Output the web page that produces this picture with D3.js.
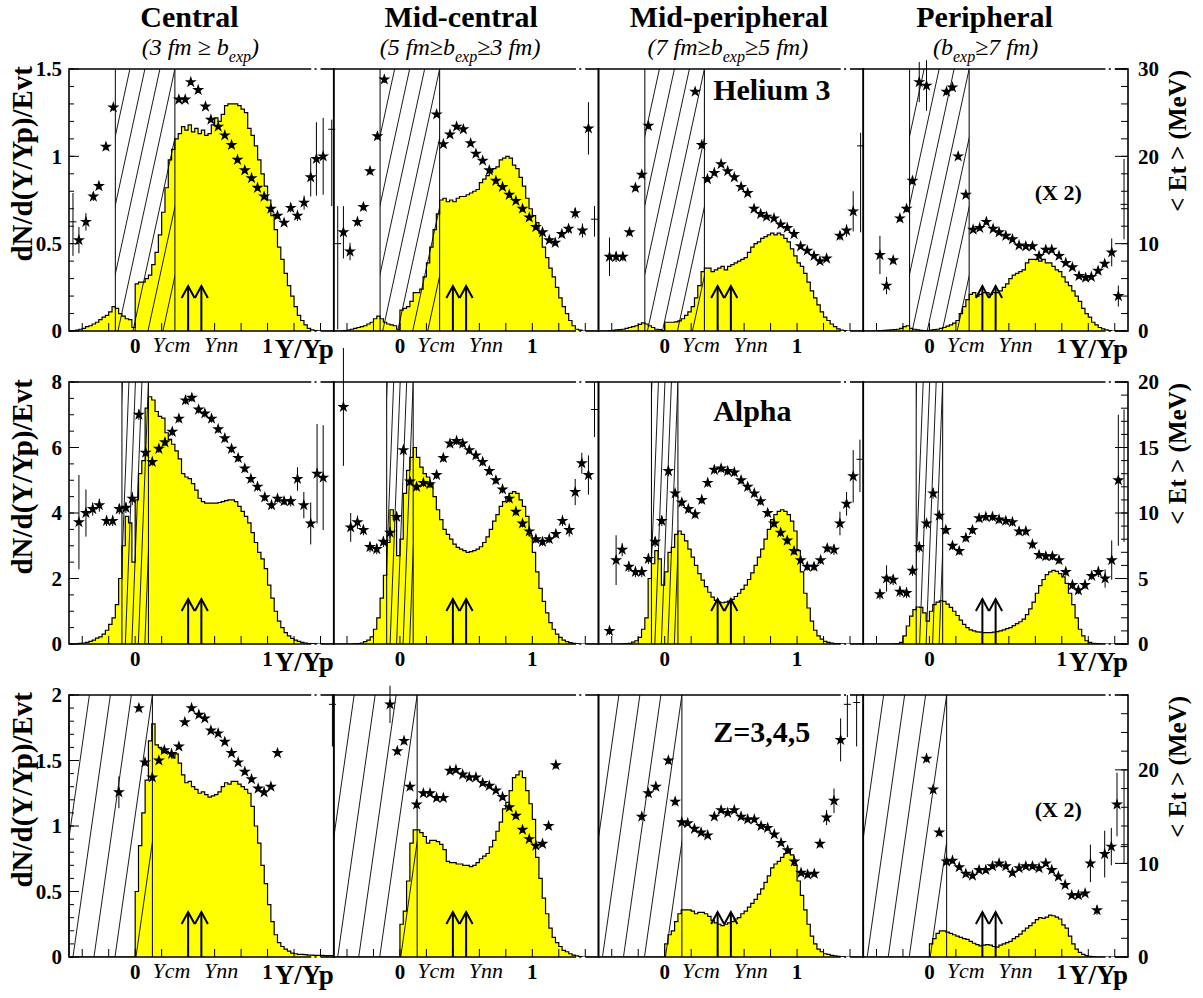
<!DOCTYPE html>
<html><head><meta charset="utf-8">
<script src="https://cdn.jsdelivr.net/npm/d3@7"></script>
<style>body{margin:0;background:#fff}svg{display:block}</style>
</head><body>
<svg id="chart" width="1203" height="998"></svg>
<script>
// Rapidity distributions dN/d(Y/Yp) (histograms, 0.025 bins from -0.5) and
// mean transverse energy <Et> (stars) for four centrality classes.
const binStart = -0.5, binWidth = 0.025;

// ---- Helium 3 ----
const he3Central = [
 0,0,0.005,0.01,0.015,0.025,0.03,0.04,0.05,0.065,
 0.08,0.09,0.11,0.14,0.13,0.10,0.085,0.07,0.065,0.02,
 0.27,0.28,0.28,0.30,0.32,0.38,0.45,0.55,0.68,0.82,
 0.98,1.04,1.10,1.13,1.17,1.15,1.18,1.14,1.16,1.13,
 1.15,1.12,1.13,1.18,1.22,1.20,1.24,1.29,1.30,1.30,
 1.30,1.29,1.27,1.25,1.16,1.12,1.06,0.98,0.90,0.83,
 0.75,0.66,0.58,0.48,0.41,0.33,0.26,0.20,0.14,0.09,
 0.06,0.035,0.015,0.006,0.002,0.001,0,0,0,0];
const he3MidCentral = [
 0,0,0,0.002,0.005,0.01,0.015,0.02,0.025,0.03,
 0.04,0.05,0.07,0.085,0.07,0.05,0.04,0.035,0.03,0.01,
 0.12,0.13,0.14,0.17,0.22,0.22,0.24,0.31,0.39,0.48,
 0.58,0.67,0.75,0.76,0.74,0.75,0.74,0.76,0.77,0.77,
 0.78,0.79,0.80,0.81,0.85,0.87,0.89,0.91,0.93,0.94,
 0.98,0.99,1.00,0.99,0.95,0.93,0.88,0.83,0.76,0.70,
 0.66,0.62,0.56,0.48,0.42,0.36,0.31,0.25,0.19,0.14,
 0.10,0.06,0.03,0.01,0.005,0,0,0,0,0];
const he3MidPeripheral = [
 0,0,0,0.002,0.004,0.006,0.008,0.01,0.015,0.02,
 0.025,0.03,0.038,0.046,0.04,0.03,0.02,0.01,0.008,0.003,
 0.05,0.05,0.05,0.052,0.058,0.07,0.09,0.11,0.14,0.19,
 0.26,0.34,0.36,0.36,0.34,0.35,0.36,0.37,0.35,0.37,
 0.38,0.39,0.40,0.41,0.42,0.45,0.48,0.50,0.51,0.53,
 0.54,0.55,0.56,0.55,0.56,0.55,0.53,0.51,0.47,0.43,
 0.39,0.37,0.33,0.28,0.23,0.19,0.15,0.11,0.08,0.06,
 0.04,0.025,0.012,0.005,0.002,0,0,0,0,0];
const he3PeripheralX2 = [
 0,0,0,0,0.002,0.003,0.004,0.005,0.006,0.008,
 0.01,0.015,0.025,0.03,0.015,0.01,0.006,0.004,0.003,0.002,
 0.005,0.008,0.01,0.015,0.02,0.028,0.035,0.045,0.06,0.10,
 0.14,0.18,0.21,0.22,0.20,0.21,0.22,0.22,0.21,0.22,
 0.22,0.23,0.25,0.27,0.30,0.32,0.33,0.34,0.35,0.39,
 0.41,0.41,0.41,0.40,0.41,0.39,0.39,0.37,0.35,0.34,
 0.31,0.28,0.26,0.23,0.20,0.17,0.13,0.10,0.08,0.05,
 0.035,0.02,0.012,0.006,0.002,0,0,0,0,0];

// <Et> points: [Y/Yp, <Et> (MeV), error]
const he3CentralEt = [[-0.425,10.4,1.5],[-0.372,12.5,1.0],[-0.316,15.4,0.5],[-0.274,16.6,0.4],[-0.221,21.1,0.4],[-0.165,25.6,0.4],
 [0.33,26.5,0.3],[0.378,26.5,0.3],[0.42,28.5,0.3],[0.476,27.6,0.3],[0.531,25.7,0.3],[0.572,24.2,0.3],[0.627,23.4,0.3],[0.677,22.4,0.3],
 [0.728,21.3,0.3],[0.773,19.6,0.3],[0.828,18.4,0.3],[0.879,17.5,0.3],[0.924,16.4,0.3],[0.974,15.4,0.3],[1.025,14.0,0.3],[1.075,13.2,0.3],
 [1.125,12.4,0.3],[1.175,14.1,0.5],[1.226,13.2,0.6],[1.276,14.7,0.8],[1.326,17.6,2.2],[1.369,19.7,4.2],[1.42,20.0,4.4]];
const he3MidCentralEt = [[-0.427,11.3,3.0],[-0.377,9.1,1.0],[-0.321,12.5,0.5],[-0.276,14.2,0.4],[-0.226,18.3,0.4],[-0.17,22.3,0.4],[-0.118,28.8,0.4],
 [0.277,24.8,0.3],[0.328,21.4,0.3],[0.378,22.5,0.3],[0.428,23.4,0.3],[0.479,23.1,0.3],[0.534,21.5,0.3],[0.574,20.3,0.3],[0.625,19.5,0.3],
 [0.675,18.4,0.3],[0.725,17.2,0.3],[0.775,16.5,0.3],[0.826,15.6,0.3],[0.876,14.9,0.3],[0.926,14.0,0.3],[0.977,13.0,0.3],[1.027,11.9,0.3],
 [1.077,11.3,0.3],[1.128,10.4,0.3],[1.173,10.1,0.3],[1.223,11.1,0.4],[1.274,11.7,0.5],[1.324,13.5,0.6],[1.379,11.5,0.8],[1.424,23.2,3.0]];
const he3MidPeripheralEt = [[-0.417,8.5,2.2],[-0.367,8.5,0.6],[-0.316,8.5,0.5],[-0.266,11.3,0.4],[-0.221,16.4,0.4],[-0.173,17.9,0.4],[-0.123,23.5,0.4],
 [0.23,27.4,0.3],[0.28,21.3,0.3],[0.323,17.4,0.3],[0.375,18.1,0.3],[0.426,19.1,0.3],[0.476,18.3,0.3],[0.526,17.6,0.3],[0.577,16.5,0.3],
 [0.627,15.8,0.3],[0.675,14.0,0.3],[0.725,13.4,0.3],[0.77,13.1,0.3],[0.826,12.9,0.3],[0.876,12.2,0.3],[0.926,11.8,0.3],[0.977,11.1,0.3],
 [1.027,9.7,0.3],[1.077,9.2,0.3],[1.128,8.6,0.3],[1.173,8.0,0.3],[1.223,8.3,0.3],[1.324,10.9,0.5],[1.374,11.5,0.7],[1.424,13.7,2.3]];
const he3PeripheralEt = [[-0.374,8.7,2.2],[-0.324,5.2,1.0],[-0.274,8.1,0.4],[-0.223,12.9,0.4],[-0.173,14.0,0.4],[-0.128,17.2,0.4],[-0.077,28.5,2.3],
 [-0.022,28.1,2.9],[0.129,27.4,0.4],[0.174,27.9,0.4],[0.217,20.0,0.4],[0.275,15.6,0.3],[0.33,11.6,0.3],[0.38,11.8,0.3],[0.43,12.5,0.3],
 [0.481,11.7,0.3],[0.526,11.3,0.3],[0.577,10.9,0.3],[0.627,10.5,0.3],[0.677,9.8,0.3],[0.728,9.7,0.3],[0.778,9.7,0.3],[0.828,8.6,0.3],
 [0.879,9.3,0.3],[0.924,9.3,0.3],[0.979,8.6,0.3],[1.03,7.8,0.3],[1.08,7.3,0.3],[1.13,6.3,0.3],[1.18,6.1,0.3],[1.223,6.2,0.3],
 [1.274,6.9,0.3],[1.324,7.7,0.4],[1.377,9.0,1.6],[1.427,4.0,1.2]];
// points at the edges of the range, shown by their error bars only: [Y/Yp, <Et>, low, high]
const he3EdgeBars = [
 [[-0.47,12.5,8.6,15.8],[1.485,23.1,14.3,24.2]],
 [[-0.47,10.0,0.2,14.3],[1.47,12.8,10.8,14.3]],
 [[1.48,21.2,11.3,22.7]],
 [[1.47,14.5,10.5,19.7]]];

// ---- Alpha ----
const alphaCentral = [
 0,0,0.005,0.02,0.03,0.05,0.08,0.12,0.18,0.22,
 0.3,0.42,0.6,0.8,1.2,2.0,3.0,3.9,3.7,2.5,
 4.4,5.2,5.6,7.2,7.55,7.45,7.1,6.95,6.9,6.45,
 6.25,6.1,5.9,5.65,5.2,5.1,5.05,4.9,4.7,4.45,
 4.35,4.3,4.3,4.3,4.3,4.32,4.35,4.38,4.4,4.4,
 4.35,4.2,4.05,3.9,3.7,3.4,3.1,2.8,2.6,2.3,
 1.8,1.4,1.0,0.7,0.5,0.35,0.25,0.17,0.12,0.08,
 0.05,0.03,0.015,0.01,0.005,0,0,0,0,0];
const alphaMidCentral = [
 0,0,0,0,0,0,0.005,0.01,0.03,0.07,
 0.12,0.22,0.45,0.8,1.4,2.1,3.1,4.1,3.8,2.7,
 3.2,4.6,5.3,5.7,6.0,5.7,5.4,5.2,5.1,4.9,
 4.5,4.1,3.8,3.5,3.35,3.2,3.05,2.95,2.9,2.85,
 2.8,2.82,2.85,2.9,2.97,3.1,3.27,3.5,3.75,3.95,
 4.2,4.35,4.5,4.6,4.65,4.6,4.4,4.2,3.9,3.3,
 2.8,2.2,1.7,1.3,0.95,0.65,0.45,0.3,0.2,0.12,
 0.07,0.04,0.02,0.01,0,0,0,0,0,0];
const alphaMidPeripheral = [
 0,0,0,0,0,0,0,0.005,0.01,0.02,
 0.06,0.1,0.2,0.45,0.8,2.0,2.45,2.85,2.6,1.8,
 2.2,2.8,2.95,3.35,3.45,3.35,3.15,2.9,2.65,2.4,
 2.15,1.95,1.75,1.58,1.43,1.33,1.28,1.26,1.28,1.31,
 1.36,1.45,1.55,1.67,1.8,1.97,2.17,2.4,2.65,2.9,
 3.2,3.5,3.8,3.95,4.05,4.1,4.05,3.95,3.75,3.45,
 2.85,2.2,1.55,1.1,0.7,0.42,0.25,0.15,0.08,0.05,
 0.03,0.015,0.01,0.005,0,0,0,0,0,0];
const alphaPeripheral = [
 0,0,0,0,0,0,0,0,0,0.005,
 0.01,0.05,0.25,0.55,0.85,1.05,1.13,1.12,0.95,0.7,
 1.0,1.2,1.28,1.32,1.3,1.22,1.12,1.0,0.87,0.73,
 0.6,0.5,0.43,0.4,0.37,0.36,0.35,0.35,0.35,0.36,
 0.38,0.4,0.43,0.47,0.5,0.56,0.62,0.68,0.76,0.9,
 1.07,1.28,1.55,1.78,1.97,2.12,2.2,2.25,2.22,2.15,
 2.05,1.85,1.55,1.2,0.8,0.45,0.25,0.1,0.05,0.02,
 0.01,0.005,0,0,0,0,0,0,0,0];

const alphaCentralEt = [[-0.425,9.3,3.6],[-0.372,10.0,1.8],[-0.321,10.3,0.5],[-0.271,10.6,0.5],[-0.216,9.4,0.4],[-0.17,9.4,0.4],[-0.12,10.3,0.4],
 [-0.07,10.4,0.4],[-0.022,11.1,0.5],[0.028,17.5,0.4],[0.079,14.6,0.4],[0.129,13.9,0.3],[0.179,14.9,0.3],[0.225,15.4,0.3],[0.28,16.2,0.3],
 [0.33,17.2,0.3],[0.38,18.6,0.3],[0.428,18.8,0.3],[0.479,17.9,0.3],[0.526,17.6,0.3],[0.577,17.2,0.3],[0.627,16.4,0.3],[0.677,15.7,0.3],
 [0.728,14.9,0.3],[0.778,14.2,0.3],[0.828,13.4,0.3],[0.874,12.6,0.3],[0.924,12.0,0.3],[0.979,11.2,0.3],[1.03,10.6,0.3],[1.075,11.1,0.3],
 [1.125,10.9,0.3],[1.175,10.9,0.4],[1.226,12.6,0.9],[1.274,10.6,1.0],[1.326,9.2,1.6],[1.374,13.0,3.8],[1.42,12.7,4.0]];
const alphaMidCentralEt = [[-0.427,18.1,4.5],[-0.372,8.9,1.1],[-0.321,9.3,0.5],[-0.276,8.7,0.4],[-0.226,7.4,0.4],[-0.175,7.25,0.4],[-0.125,7.8,0.4],
 [-0.075,8.5,0.4],[-0.025,9.7,0.4],[0.026,14.8,0.4],[0.076,12.4,0.3],[0.126,12.0,0.3],[0.177,12.3,0.3],[0.227,12.2,0.3],[0.277,12.9,0.3],
 [0.328,14.2,0.3],[0.378,15.3,0.3],[0.428,15.5,0.3],[0.474,15.3,0.3],[0.524,14.8,0.3],[0.574,14.4,0.3],[0.625,13.9,0.3],[0.675,13.2,0.3],
 [0.725,12.5,0.3],[0.775,11.8,0.3],[0.826,11.1,0.3],[0.876,10.1,0.3],[0.926,9.2,0.3],[0.977,8.6,0.3],[1.027,8.0,0.3],[1.077,7.8,0.3],
 [1.128,8.0,0.3],[1.178,8.4,0.3],[1.228,9.4,0.4],[1.279,8.7,0.5],[1.324,11.6,1.0],[1.374,13.8,0.8],[1.424,12.9,1.5]];
const alphaMidPeripheralEt = [[-0.417,1.0,0.3],[-0.367,6.4,1.9],[-0.321,7.2,0.5],[-0.271,5.9,0.4],[-0.221,5.5,0.4],[-0.173,5.5,0.4],[-0.123,6.5,0.4],
 [-0.072,7.8,0.4],[-0.022,9.4,0.4],[0.028,13.2,0.4],[0.079,11.5,0.3],[0.129,10.8,0.3],[0.179,10.3,0.3],[0.23,9.9,0.3],[0.28,11.0,0.3],
 [0.325,12.3,0.3],[0.375,13.3,0.3],[0.426,13.4,0.3],[0.476,13.2,0.3],[0.526,13.1,0.3],[0.577,12.5,0.3],[0.627,12.0,0.3],[0.677,11.5,0.3],
 [0.725,10.9,0.3],[0.778,10.0,0.3],[0.826,9.2,0.3],[0.876,8.5,0.3],[0.926,7.9,0.3],[0.977,7.1,0.3],[1.027,6.4,0.3],[1.077,5.9,0.3],
 [1.128,5.9,0.3],[1.178,6.4,0.3],[1.228,7.3,0.3],[1.279,7.2,0.4],[1.324,9.2,0.9],[1.374,10.7,0.9],[1.424,12.8,2.0]];
const alphaPeripheralEt = [[-0.374,3.8,0.4],[-0.324,5.0,1.0],[-0.274,4.9,0.4],[-0.223,4.0,0.4],[-0.173,3.9,0.4],[-0.128,5.6,0.4],[-0.077,7.4,0.4],
 [-0.022,9.2,0.4],[0.028,11.5,0.4],[0.074,9.8,0.3],[0.124,8.7,0.3],[0.174,7.5,0.3],[0.225,7.1,0.3],[0.275,8.1,0.3],[0.325,8.7,0.3],
 [0.375,9.6,0.3],[0.426,9.7,0.3],[0.476,9.7,0.3],[0.526,9.5,0.3],[0.577,9.4,0.3],[0.627,9.3,0.3],[0.677,8.6,0.3],[0.728,8.6,0.3],
 [0.778,7.6,0.3],[0.828,6.8,0.3],[0.879,6.7,0.3],[0.929,6.7,0.3],[0.979,6.4,0.3],[1.03,5.5,0.3],[1.08,4.5,0.3],[1.125,4.1,0.3],
 [1.175,4.5,0.3],[1.226,5.2,0.3],[1.276,5.5,0.4],[1.327,5.0,0.7],[1.377,6.4,1.5],[1.427,12.5,5.0]];
const alphaEdgeBars = [
 [],
 [[1.47,17.9,15.8,20.0]],
 [[1.475,14.1,11.6,15.6]],
 [[1.47,15.0,7.8,17.9]]];

// ---- Z = 3,4,5 ----
const zCentral = [
 0,0,0,0,0,0,0,0,0,0,
 0,0,0,0,0,0,0,0,0,0,
 0.5,0.85,1.1,1.35,1.65,1.78,1.62,1.6,1.56,1.57,
 1.56,1.52,1.55,1.48,1.39,1.33,1.34,1.3,1.28,1.25,
 1.26,1.24,1.22,1.23,1.24,1.26,1.3,1.33,1.32,1.34,
 1.34,1.32,1.3,1.28,1.25,1.15,1.0,0.87,0.7,0.56,
 0.4,0.27,0.17,0.11,0.08,0.06,0.045,0.03,0.025,0.02,
 0.02,0.018,0.015,0.015,0.013,0.012,0.012,0.01,0.01,0.01];
const zMidCentral = [
 0,0,0,0,0,0,0,0,0,0,
 0,0,0,0,0,0,0,0,0,0,
 0.25,0.35,0.58,0.87,0.97,0.97,0.95,0.92,0.87,0.89,
 0.89,0.88,0.86,0.82,0.73,0.72,0.72,0.71,0.71,0.70,
 0.70,0.69,0.70,0.72,0.75,0.77,0.79,0.84,0.89,0.96,
 1.03,1.13,1.18,1.27,1.37,1.39,1.42,1.37,1.27,1.17,
 1.05,0.76,0.6,0.45,0.33,0.22,0.15,0.11,0.08,0.05,
 0.04,0.025,0.015,0.008,0.003,0,0,0,0,0];
const zMidPeripheral = [
 0,0,0,0,0,0,0,0,0,0,
 0,0,0,0,0,0,0,0,0,0,
 0.1,0.17,0.2,0.27,0.33,0.36,0.36,0.36,0.35,0.33,
 0.34,0.34,0.33,0.31,0.28,0.26,0.25,0.24,0.25,0.26,
 0.27,0.29,0.3,0.33,0.35,0.38,0.41,0.44,0.48,0.52,
 0.57,0.62,0.68,0.71,0.73,0.76,0.79,0.82,0.78,0.7,
 0.58,0.47,0.36,0.25,0.16,0.1,0.06,0.04,0.025,0.02,
 0.012,0.008,0.005,0.003,0,0,0,0,0,0];
const zPeripheralX2 = [
 0,0,0,0,0,0,0,0,0,0,
 0,0,0,0,0,0,0,0,0,0,
 0.1,0.14,0.18,0.2,0.2,0.19,0.18,0.17,0.16,0.15,
 0.14,0.135,0.12,0.105,0.095,0.085,0.09,0.095,0.09,0.08,
 0.075,0.09,0.1,0.11,0.12,0.14,0.155,0.175,0.2,0.22,
 0.24,0.26,0.285,0.3,0.295,0.305,0.32,0.315,0.305,0.29,
 0.245,0.22,0.16,0.1,0.06,0.035,0.02,0.01,0.005,0.003,
 0,0,0,0,0,0,0,0,0,0];

const zCentralEt = [[-0.123,17.6,1.7],[0.028,26.6,0.4],[0.074,20.8,0.4],[0.129,19.2,0.4],[0.179,21.0,0.3],[0.22,22.1,0.3],[0.275,21.7,0.3],
 [0.33,22.5,0.3],[0.375,25.1,0.3],[0.426,26.6,0.3],[0.481,25.9,0.3],[0.526,25.5,0.3],[0.572,24.2,0.3],[0.627,23.9,0.3],[0.677,23.0,0.3],
 [0.728,21.8,0.3],[0.778,20.8,0.3],[0.828,19.8,0.3],[0.879,19.0,0.3],[0.929,18.0,0.3],[0.974,17.6,0.3],[1.025,18.2,0.3],[1.075,21.8,0.3]];
const zMidCentralEt = [[-0.075,27.0,2.0],[-0.02,22.0,0.4],[0.031,23.1,0.4],[0.076,18.2,0.4],[0.126,16.3,0.4],[0.177,17.5,0.3],[0.227,17.5,0.3],
 [0.277,17.0,0.3],[0.328,17.0,0.3],[0.378,19.9,0.3],[0.423,20.0,0.3],[0.474,19.5,0.3],[0.524,19.2,0.3],[0.574,19.2,0.3],[0.625,18.6,0.3],
 [0.675,18.3,0.3],[0.725,17.8,0.3],[0.775,17.1,0.3],[0.826,16.0,0.3],[0.876,15.1,0.3],[0.926,13.6,0.3],[0.977,12.6,0.3],[1.027,11.9,0.3],
 [1.077,12.1,0.3],[1.123,14.0,0.3],[1.178,20.5,0.4]];
const zMidPeripheralEt = [[-0.173,15.0,0.4],[-0.123,17.5,0.4],[-0.067,18.2,0.4],[0.028,21.0,0.4],[0.079,16.6,0.4],[0.129,14.4,0.3],[0.174,14.3,0.3],
 [0.225,13.7,0.3],[0.275,13.3,0.3],[0.325,13.0,0.3],[0.375,15.0,0.3],[0.426,15.7,0.3],[0.476,15.4,0.3],[0.526,15.7,0.3],[0.577,15.0,0.3],
 [0.627,14.7,0.3],[0.677,14.7,0.3],[0.728,14.0,0.3],[0.778,13.8,0.3],[0.828,13.1,0.3],[0.879,12.2,0.3],[0.929,11.4,0.3],[0.979,10.2,0.3],
 [1.03,9.0,0.3],[1.08,8.8,0.3],[1.13,8.9,0.3],[1.173,12.1,0.4],[1.223,14.9,0.8],[1.279,16.7,1.3],[1.329,23.2,2.3]];
const zPeripheralEt = [[-0.022,21.2,0.4],[0.028,17.9,0.4],[0.074,13.3,0.4],[0.129,10.2,0.4],[0.174,10.3,0.3],[0.225,9.6,0.3],[0.275,8.9,0.3],
 [0.325,8.7,0.3],[0.375,9.3,0.3],[0.426,9.3,0.3],[0.476,9.7,0.3],[0.526,10.0,0.3],[0.577,9.7,0.3],[0.627,9.0,0.3],[0.677,9.5,0.3],
 [0.728,9.7,0.3],[0.778,9.7,0.3],[0.828,9.5,0.3],[0.879,10.0,0.3],[0.924,9.3,0.3],[0.974,8.6,0.3],[1.025,7.7,0.3],[1.075,6.6,0.3],
 [1.125,6.6,0.3],[1.176,6.8,0.3],[1.216,10.0,2.0],[1.266,5.0,0.5],[1.324,11.0,2.5],[1.374,11.8,2.0],[1.417,16.3,3.4]];
const zEdgeBars = [
 [[1.49,27.0,22.5,28.0]],
 [],
 [[1.38,27.0,23.5,28.0],[1.45,27.2,22.5,28.0]],
 [[1.47,11.8,10.0,20.0]]];

// ---- labels and axes ----
const centralityTitles = ["Central","Mid-central","Mid-peripheral","Peripheral"];
// impact-parameter selections: [before subscript, subscript, after subscript]
const centralityCuts = [["(3 fm \u2265 b","exp",")"],["(5 fm\u2265b","exp","\u22653 fm)"],["(7 fm\u2265b","exp","\u22655 fm)"],["(b","exp","\u22657 fm)"]];
const particleNames = ["Helium 3","Alpha","Z=3,4,5"];
const he3Ticks = [0,0.5,1,1.5], alphaTicks = [0,2,4,6,8], zTicks = [0,0.5,1,1.5,2];
const he3EtTicks = [0,10,20,30], alphaEtTicks = [0,5,10,15,20], zEtTicks = [0,10,20];
const rapidityTicks = [-0.4,-0.2,0,0.2,0.4,0.6,0.8,1,1.2,1.4];
const rapidityLabels = [0,1];
const ycmValue = 0.40, ynnValue = 0.50;
const scaleNote = "(X 2)";

// ---------------------------------------------------------------
const FONT = "'Liberation Serif','Times New Roman',Times,serif";
const svg = d3.select("#chart");
const defs = svg.append("defs");
const L = {left:69, top:69, w:264.75, h:262, rowStep:313};

const rowsCfg = [
 {hists:[he3Central,he3MidCentral,he3MidPeripheral,he3PeripheralX2],
  stars:[he3CentralEt,he3MidCentralEt,he3MidPeripheralEt,he3PeripheralEt], edges:he3EdgeBars,
  yMax:1.5, yTicks:he3Ticks, yMinor:0.1, etMax:30, etTicks:he3EtTicks, etMinor:2,
  hatch:[-0.15,0.30], hatchSpacing:15, hatchSlope:4.6, ycm:true,
  nameAt:[0.366,1.32], scaled:[false,false,false,true]},
 {hists:[alphaCentral,alphaMidCentral,alphaMidPeripheral,alphaPeripheral],
  stars:[alphaCentralEt,alphaMidCentralEt,alphaMidPeripheralEt,alphaPeripheralEt], edges:alphaEdgeBars,
  yMax:8, yTicks:alphaTicks, yMinor:0.5, etMax:20, etTicks:alphaEtTicks, etMinor:1,
  hatch:[-0.1,0.1], hatchSpacing:6.5, hatchSlope:26, ycm:false,
  nameAt:[0.366,6.81], scaled:[false,false,false,false]},
 {hists:[zCentral,zMidCentral,zMidPeripheral,zPeripheralX2],
  stars:[zCentralEt,zMidCentralEt,zMidPeripheralEt,zPeripheralEt], edges:zEdgeBars,
  yMax:2, yTicks:zTicks, yMinor:0.1, etMax:28, etTicks:zEtTicks, etMinor:2,
  hatch:[-0.5,0.13], hatchSpacing:21, hatchSlope:7, ycm:true,
  nameAt:[0.366,1.64], scaled:[false,false,false,true]}
];

const starSym = d3.symbol().type(d3.symbolStar).size(45);
const titleDx = [-12,-5,-2,-11], cutDx = [-1,-6,-3,-10];

// column headers
centralityTitles.forEach((t,c)=>{
  const cx = L.left + c*L.w + L.w/2;
  svg.append("text").attr("x",cx+titleDx[c]).attr("y",27).attr("text-anchor","middle")
    .attr("font-family",FONT).attr("font-weight","bold").attr("font-size",30).text(t);
  const cut = centralityCuts[c];
  const tx = svg.append("text").attr("x",cx+cutDx[c]).attr("y",55).attr("text-anchor","middle")
    .attr("font-family",FONT).attr("font-style","italic").attr("font-size",24);
  tx.append("tspan").text(cut[0]);
  tx.append("tspan").attr("dy",7).attr("font-size",16).text(cut[1]);
  tx.append("tspan").attr("dy",-7).text(cut[2]);
});

rowsCfg.forEach((row,r)=>{
  const y0 = L.top + r*L.rowStep, y1 = y0 + L.h;
  // left axis title
  svg.append("text").attr("transform",`translate(32,${y0-3}) rotate(-90)`).attr("text-anchor","end")
    .attr("font-family",FONT).attr("font-weight","bold").attr("font-size",29).text("dN/d(Y/Yp)/Evt");
  // right axis title
  svg.append("text").attr("transform",`translate(1186,${y0+1}) rotate(-90)`).attr("text-anchor","end")
    .attr("font-family",FONT).attr("font-weight","bold").attr("font-size",25).text("< Et > (MeV)");

  for(let c=0;c<4;c++){
    const x0 = L.left + c*L.w, x1 = x0 + L.w;
    const x = d3.scaleLinear().domain([-0.5,1.5]).range([x0,x1]);
    const y = d3.scaleLinear().domain([0,row.yMax]).range([y1,y0]);
    const et = d3.scaleLinear().domain([0,row.etMax]).range([y1,y0]);
    const g = svg.append("g");
    const clipId = `frame-${r}-${c}`;
    defs.append("clipPath").attr("id",clipId).append("rect")
      .attr("x",x0).attr("y",y0).attr("width",L.w).attr("height",L.h);

    // histogram (step outline + yellow fill)
    const vals = row.hists[c];
    let d = `M${x(binStart)},${y(0)}`;
    vals.forEach((v,i)=>{
      d += `L${x(binStart+i*binWidth)},${y(v)}L${x(binStart+(i+1)*binWidth)},${y(v)}`;
    });
    d += `L${x(binStart+vals.length*binWidth)},${y(0)}`;
    g.append("path").attr("d",d+"Z").attr("fill","#ffff00").attr("stroke","none").attr("clip-path",`url(#${clipId})`);

    // hatched acceptance band
    const hx0 = x(row.hatch[0]), hx1 = x(row.hatch[1]);
    const hId = `hatch-${r}-${c}`;
    defs.append("clipPath").attr("id",hId).append("rect")
      .attr("x",hx0).attr("y",y0).attr("width",hx1-hx0).attr("height",L.h);
    const shift = L.h/row.hatchSlope;
    const hatchLines = [];
    for(let k=-60;k<=60;k++){
      const xt = hx1 - k*row.hatchSpacing, xb = xt - shift;
      if(Math.max(xt,xb) < hx0-1 || Math.min(xt,xb) > hx1+1) continue;
      hatchLines.push([xt,xb]);
    }
    g.append("g").attr("clip-path",`url(#${hId})`).selectAll("line").data(hatchLines).join("line")
      .attr("x1",dd=>dd[0]).attr("y1",y0).attr("x2",dd=>dd[1]).attr("y2",y1)
      .attr("stroke","#000").attr("stroke-width",0.9);
    [hx0,hx1].forEach(hx=>g.append("line").attr("x1",hx).attr("x2",hx).attr("y1",y0).attr("y2",y1)
      .attr("stroke","#000").attr("stroke-width",1));

    g.append("path").attr("d",d).attr("fill","none").attr("stroke","#000").attr("stroke-width",1.2)
      .attr("clip-path",`url(#${clipId})`);

    // Ycm / Ynn arrows
    [ycmValue,ynnValue].forEach(v=>{
      const ax = x(v), top = y1-45;
      g.append("line").attr("x1",ax).attr("x2",ax).attr("y1",y1).attr("y2",top).attr("stroke","#000").attr("stroke-width",2);
      g.append("path").attr("d",`M${ax-6.5},${top+12}L${ax},${top}L${ax+6.5},${top+12}`)
        .attr("fill","none").attr("stroke","#000").attr("stroke-width",2);
    });

    // x ticks
    g.selectAll(null).data(rapidityTicks).join("line")
      .attr("x1",v=>x(v)).attr("x2",v=>x(v)).attr("y1",y1).attr("y2",y1-8).attr("stroke","#000").attr("stroke-width",1);

    // frame (top and bottom lines show a small break near Y/Yp = 1.37)
    const fw = 1.6;
    [[-0.5,1.33],[1.355,1.37],[1.40,1.5]].forEach(s=>{
      [y0,y1].forEach(yy=>g.append("line").attr("x1",x(s[0])).attr("x2",x(s[1])).attr("y1",yy).attr("y2",yy)
        .attr("stroke","#000").attr("stroke-width",fw));
    });
    [x0,x1].forEach(xx=>g.append("line").attr("x1",xx).attr("x2",xx).attr("y1",y0-fw/2).attr("y2",y1+fw/2)
      .attr("stroke","#000").attr("stroke-width",fw));

    // <Et> error bars and stars
    const pts = row.stars[c];
    g.selectAll(null).data(pts.filter(p=>p[2]>0)).join("line")
      .attr("x1",p=>x(p[0])).attr("x2",p=>x(p[0])).attr("y1",p=>et(p[1]-p[2])).attr("y2",p=>et(p[1]+p[2]))
      .attr("stroke","#000").attr("stroke-width",1);
    g.selectAll(null).data(pts).join("path")
      .attr("d",starSym).attr("transform",p=>`translate(${x(p[0])},${et(p[1])})`).attr("fill","#000");
    const edges = row.edges[c];
    g.selectAll(null).data(edges).join("line")
      .attr("x1",p=>x(p[0])).attr("x2",p=>x(p[0])).attr("y1",p=>et(p[2])).attr("y2",p=>et(p[3]))
      .attr("stroke","#000").attr("stroke-width",1);
    g.selectAll(null).data(edges).join("line")
      .attr("x1",p=>x(p[0])-3.5).attr("x2",p=>x(p[0])+3.5).attr("y1",p=>et(p[1])).attr("y2",p=>et(p[1]))
      .attr("stroke","#000").attr("stroke-width",1);

    // x labels
    g.selectAll(null).data(rapidityLabels).join("text")
      .attr("x",v=>x(v)).attr("y",y1+22).attr("text-anchor","middle")
      .attr("font-family",FONT).attr("font-weight","bold").attr("font-size",21).text(v=>String(v));
    if(c===0 || c===3){
      g.append("text").attr("x",x1).attr("y",y1+27).attr("text-anchor","end")
        .attr("font-family",FONT).attr("font-weight","bold").attr("font-size",27).text("Y/Yp");
    }
    if(row.ycm){
      g.append("text").attr("x",x(0.13)).attr("y",y1+21).attr("font-family",FONT).attr("font-style","italic")
        .attr("font-size",22).text("Ycm");
      g.append("text").attr("x",x(0.52)).attr("y",y1+21).attr("font-family",FONT).attr("font-style","italic")
        .attr("font-size",22).text("Ynn");
    }

    // left axis
    if(c===0){
      const minor = d3.range(0,row.yMax+1e-9,row.yMinor);
      g.selectAll(null).data(minor).join("line")
        .attr("x1",x0).attr("x2",x0+5).attr("y1",v=>y(v)).attr("y2",v=>y(v)).attr("stroke","#000");
      g.selectAll(null).data(row.yTicks).join("line")
        .attr("x1",x0).attr("x2",x0+10).attr("y1",v=>y(v)).attr("y2",v=>y(v)).attr("stroke","#000");
      g.selectAll(null).data(row.yTicks).join("text")
        .attr("x",62).attr("y",v=>y(v)).attr("dy","0.35em").attr("text-anchor","end")
        .attr("font-family",FONT).attr("font-weight","bold").attr("font-size",21).text(v=>String(v));
    }
    // right axis
    if(c===3){
      const minor = d3.range(0,row.etMax+1e-9,row.etMinor);
      g.selectAll(null).data(minor).join("line")
        .attr("x1",x1).attr("x2",x1-7).attr("y1",v=>et(v)).attr("y2",v=>et(v)).attr("stroke","#000");
      g.selectAll(null).data(row.etTicks).join("line")
        .attr("x1",x1).attr("x2",x1-13).attr("y1",v=>et(v)).attr("y2",v=>et(v)).attr("stroke","#000");
      g.selectAll(null).data(row.etTicks).join("text")
        .attr("x",x1+10).attr("y",v=>et(v)).attr("dy","0.35em").attr("text-anchor","start")
        .attr("font-family",FONT).attr("font-weight","bold").attr("font-size",21).text(v=>String(v));
    }

    // particle name
    if(c===2){
      g.append("text").attr("x",x(row.nameAt[0])).attr("y",y(row.nameAt[1]))
        .attr("font-family",FONT).attr("font-weight","bold").attr("font-size",30).text(particleNames[r]);
    }
    if(row.scaled[c]){
      g.append("text").attr("x",x(0.796)).attr("y",et(15))
        .attr("font-family",FONT).attr("font-weight","bold").attr("font-size",22).text(scaleNote);
    }
  }
});
</script>
</body></html>
